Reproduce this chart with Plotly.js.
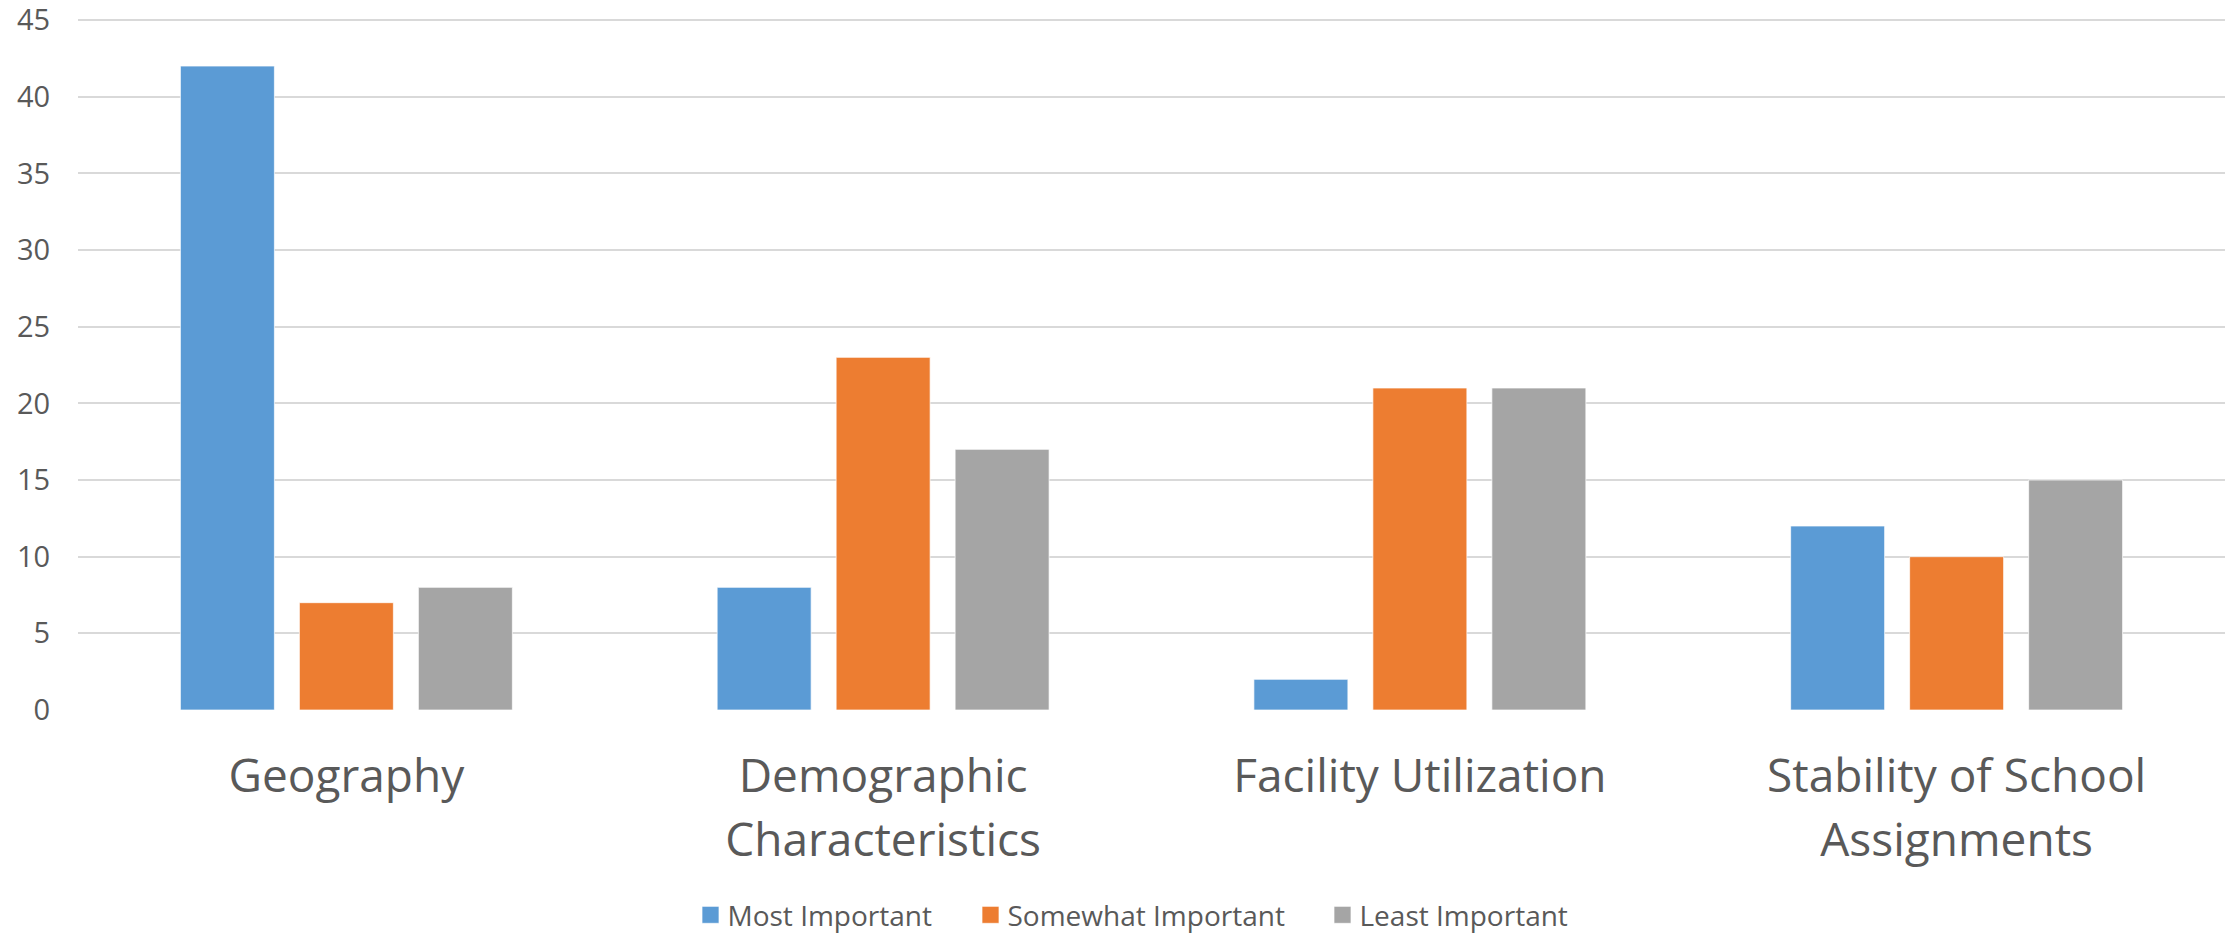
<!DOCTYPE html>
<html>
<head>
<meta charset="utf-8">
<script src="https://cdn.plot.ly/plotly-3.0.1.min.js"></script>
<style>
  html, body { margin: 0; padding: 0; background: #ffffff; }
  #chart { width: 2239px; height: 937px; }
</style>
</head>
<body>
<div id="chart"></div>
<script>
// Categories (tick labels)
const categories = [
  "Geography",
  "Demographic<br>Characteristics",
  "Facility Utilization",
  "Stability of School<br>Assignments"
];

// Series
const seriesNames = ["Most Important", "Somewhat Important", "Least Important"];
const mostImportant = [42, 8, 2, 12];
const somewhatImportant = [7, 23, 21, 10];
const leastImportant = [8, 17, 21, 15];

// Y-axis ticks
const yTicks = [0, 5, 10, 15, 20, 25, 30, 35, 40, 45];

const colors = ["#5B9BD5", "#ED7D31", "#A5A5A5"];
const seriesValues = [mostImportant, somewhatImportant, leastImportant];

const traces = seriesValues.map((vals, i) => ({
  type: "bar",
  name: seriesNames[i],
  x: categories,
  y: vals,
  marker: { color: colors[i], line: { color: "rgba(255,255,255,0.7)", width: 1 } },
  hoverinfo: "x+y+name"
}));

const layout = {
  width: 2239,
  height: 937,
  margin: { l: 78, r: 14, t: 17, b: 227, pad: 0, autoexpand: false },
  paper_bgcolor: "#ffffff",
  plot_bgcolor: "#ffffff",
  barmode: "group",
  bargap: 0.335,
  bargroupgap: 0.21,
  font: { family: "'Open Sans', 'Noto Sans', sans-serif", color: "#595959" },
  xaxis: {
    type: "category",
    automargin: false,
    tickfont: { size: 46, color: "#595959" },
    ticks: "outside",
    ticklen: 26,
    tickcolor: "rgba(0,0,0,0)",
    showline: false,
    showgrid: false,
    zeroline: false
  },
  yaxis: {
    automargin: false,
    range: [0, 45.2],
    tickvals: yTicks,
    ticktext: yTicks.map(String),
    tickfont: { size: 29, color: "#595959" },
    ticklabeloverflow: "allow",
    ticks: "outside",
    ticklen: 21,
    tickcolor: "rgba(0,0,0,0)",
    showgrid: true,
    gridcolor: "#D9D9D9",
    gridwidth: 2,
    zeroline: false,
    showline: false
  },
  showlegend: true,
  legend: {
    orientation: "h",
    x: 0.491,
    xanchor: "center",
    y: -0.296,
    yanchor: "middle",
    font: { size: 28, color: "#595959" },
    bgcolor: "rgba(0,0,0,0)"
  }
};

// Target left edges of legend swatches (page px) and swatch half-size
const legendSwatchLeft = [702, 982, 1334];
const swatchHalf = 8.5;
const lineSpacingScale = 1.39 / 1.3;

Plotly.newPlot("chart", traces, layout, { displayModeBar: false, staticPlot: true }).then(gd => {
  // widen the line spacing of two-line category labels
  gd.querySelectorAll(".xtick text").forEach(t => {
    const lines = t.querySelectorAll("tspan.line");
    lines.forEach((ts, i) => {
      if (i === 0) return;
      const dy = ts.getAttribute("dy");
      if (dy && dy.endsWith("em")) {
        ts.setAttribute("dy", (parseFloat(dy) * lineSpacingScale) + "em");
      }
    });
  });
  // remove legend clipping so re-spaced items stay visible
  gd.querySelectorAll(".legend [clip-path]").forEach(el => el.removeAttribute("clip-path"));
  const leg = gd.querySelector(".legend");
  if (leg && leg.hasAttribute("clip-path")) leg.removeAttribute("clip-path");
  // enlarge legend swatches and space the items
  const rootBox = gd.getBoundingClientRect();
  const items = gd.querySelectorAll(".legend .traces");
  items.forEach((g, i) => {
    const p = g.querySelector(".legendpoints path");
    if (p) {
      p.setAttribute("d", `M${swatchHalf},${swatchHalf}H${-swatchHalf}V${-swatchHalf}H${swatchHalf}Z`);
    }
    const text = g.querySelector("text.legendtext");
    if (text) {
      text.setAttribute("x", 37);
      text.querySelectorAll("tspan").forEach(ts => { if (ts.hasAttribute("x")) ts.setAttribute("x", 37); });
    }
    if (p && i < legendSwatchLeft.length) {
      const bb = p.getBoundingClientRect();
      const cur = bb.left - rootBox.left;
      const delta = legendSwatchLeft[i] - cur;
      const tr = g.getAttribute("transform") || "translate(0,0)";
      const m = tr.match(/translate\(\s*([-\d.]+)[ ,]+([-\d.]+)\s*\)/);
      if (m) {
        g.setAttribute("transform", `translate(${parseFloat(m[1]) + delta},${m[2]})`);
      }
    }
  });
});
</script>
</body>
</html>
